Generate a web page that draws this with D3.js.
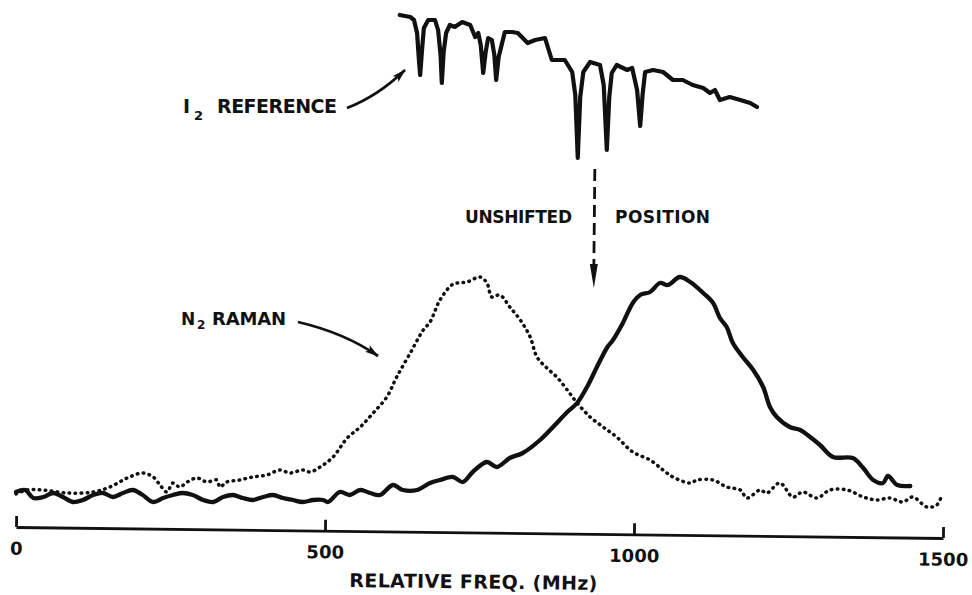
<!DOCTYPE html>
<html>
<head>
<meta charset="utf-8">
<script src="https://cdn.jsdelivr.net/npm/d3@7"></script>
<style>
  body { margin: 0; background: #fff; }
  text { font-family: "DejaVu Sans", sans-serif; font-weight: bold; fill: #111; }
</style>
</head>
<body>
<script>
// frequency in MHz, signal in arbitrary units
var ramanFreq = [0, 15, 28, 44, 60, 76, 92, 108, 125, 141, 157, 173, 189, 205, 222, 238, 254, 270, 286, 303,
  319, 335, 351, 367, 383, 400, 416, 432, 448, 464, 481, 497, 505, 524, 540, 557, 573, 589, 610, 626,
  649, 670, 686, 707, 723, 739, 762, 778, 799, 820, 848, 869, 892, 908, 924, 940, 957, 966, 982, 998,
  1010, 1026, 1042, 1055, 1074, 1091, 1112, 1128, 1139, 1150, 1160, 1176, 1193, 1209, 1220, 1231, 1252,
  1269, 1285, 1301, 1322, 1354, 1371, 1387, 1403, 1411, 1426, 1447];
var ramanSignal = [7.0, 7.4, 5.8, 6.0, 6.8, 6.0, 5.0, 5.4, 6.4, 6.8, 6.0, 6.8, 7.4, 6.4, 5.0, 5.8, 6.4, 6.8, 6.4, 5.4,
  5.0, 6.0, 6.4, 5.8, 5.4, 6.0, 6.4, 5.8, 5.4, 5.0, 5.4, 5.4, 5.0, 7.0, 6.4, 7.4, 6.8, 6.4, 8.4, 7.4,
  7.4, 8.8, 9.4, 10.0, 9.0, 11.0, 13.0, 12.0, 13.8, 14.8, 17.4, 20.0, 23.0, 24.8, 28.0, 32.0, 36.0, 37.4, 40.8, 44.8,
  46.4, 47.0, 48.8, 48.4, 50.0, 49.0, 46.8, 44.8, 41.8, 40.0, 36.8, 34.0, 31.4, 28.0, 24.0, 22.0, 20.0,
  19.4, 18.0, 16.4, 14.0, 13.8, 11.8, 9.4, 8.8, 10.2, 8.4, 8.2];

var shiftedFreq = [0, 18, 44, 83, 125, 152, 180, 205, 222, 233, 244, 254, 265, 277, 293, 309, 325, 330, 341, 362, 383,
  406, 427, 443, 464, 476, 492, 513, 536, 557, 578, 600, 616, 638, 659, 670, 686, 705, 714, 730, 751,
  762, 770, 783, 799, 816, 832, 843, 859, 875, 892, 908, 929, 950, 972, 998, 1026, 1047, 1063, 1091, 1102,
  1128, 1150, 1172, 1183, 1204, 1215, 1236, 1257, 1273, 1296, 1317, 1345, 1371, 1393, 1414, 1435, 1451, 1474, 1490, 1498];
var shiftedSignal = [6.6, 7.4, 7.4, 6.8, 7.0, 8.0, 9.8, 10.8, 10.0, 8.4, 7.0, 8.8, 8.0, 9.0, 9.8, 9.0, 9.4, 8.0, 9.0, 9.4, 10.0,
  10.4, 11.4, 10.8, 11.4, 11.0, 12.0, 14.0, 17.8, 20.0, 22.8, 26.0, 30.0, 34.8, 39.4, 41.0, 45.4, 48.4, 48.8, 49.0, 50.0,
  48.8, 46.0, 46.4, 44.0, 41.4, 38.0, 34.0, 31.8, 30.0, 27.4, 24.8, 22.0, 20.0, 18.0, 15.0, 13.4, 11.4, 10.0, 8.8, 9.4,
  9.4, 8.0, 7.4, 5.8, 7.4, 6.8, 8.8, 6.0, 7.0, 5.8, 7.4, 7.4, 6.0, 5.4, 5.8, 5.0, 6.0, 4.0, 4.4, 6.4];

var iodineFreq = [621, 638, 644, 649, 652, 654, 657, 660, 667, 678, 683, 687, 689, 692, 696, 702, 710, 722, 735, 743,
  748, 752, 756, 760, 764, 770, 774, 777, 781, 791, 803, 812, 828, 840, 856, 867, 888, 900, 905, 909,
  913, 918, 929, 945, 951, 956, 960, 964, 972, 989, 997, 1005, 1010, 1014, 1018, 1031, 1047, 1063, 1079, 1095,
  1112, 1123, 1131, 1139, 1155, 1172, 1188, 1199];
var iodineSignal = [102.4, 102.0, 101.4, 98.8, 93.4, 90.4, 95.4, 99.8, 101.4, 101.4, 99.4, 94.4, 88.8, 95.0, 98.8, 100.4, 100.0, 101.0, 100.4, 98.0,
  98.8, 96.4, 90.8, 95.0, 97.8, 97.4, 94.4, 89.4, 94.0, 99.0, 99.0, 98.8, 96.8, 97.4, 97.8, 93.4, 93.4, 91.0, 86.4, 73.8,
  86.0, 91.0, 93.0, 92.4, 88.4, 75.4, 86.0, 90.8, 92.4, 91.4, 91.8, 87.4, 80.2, 86.6, 91.0, 91.4, 91.0, 89.4, 89.4, 88.4,
  87.8, 86.8, 87.4, 85.4, 86.0, 85.4, 84.8, 84.0];

var tickValues = [0, 500, 1000, 1500];
var unshiftedPos = 935;

var width = 972;
var height = 595;

var svg = d3.select("body").append("svg")
    .attr("width", width)
    .attr("height", height);

var x = d3.scaleLinear()
    .domain([0, 1500])
    .range([16, 943]);

var y = d3.scaleLinear()
    .domain([0, 100])
    .range([527, 27]);

var line = d3.line()
    .x(function(d) { return x(d[0]); })
    .y(function(d) { return y(d[1]); });

// arrow head for the label pointers
svg.append("defs").append("marker")
    .attr("id", "head")
    .attr("viewBox", "0 0 14 8")
    .attr("refX", 13)
    .attr("refY", 4)
    .attr("markerWidth", 14)
    .attr("markerHeight", 8)
    .attr("markerUnits", "userSpaceOnUse")
    .attr("orient", "auto")
  .append("path")
    .attr("d", "M0,0 L14,4 L0,8 L3,4 Z")
    .attr("fill", "#111");

// axis, the scan is tilted a little
var xAxis = d3.axisBottom(x)
    .tickValues(tickValues)
    .tickSizeInner(-11)
    .tickSizeOuter(0)
    .tickPadding(15)
    .tickFormat(d3.format("d"));

var axisG = svg.append("g")
    .attr("transform", "translate(0,527) rotate(0.68,16,0)")
    .call(xAxis);

axisG.select(".domain").attr("stroke", "#111").attr("stroke-width", 2.8);
axisG.selectAll(".tick line").attr("stroke", "#111").attr("stroke-width", 2.8);
axisG.selectAll(".tick text")
    .attr("font-family", "DejaVu Sans, sans-serif")
    .attr("font-weight", "bold")
    .attr("font-size", 18)
    .attr("fill", "#111");

axisG.append("text")
    .attr("x", 474)
    .attr("y", 56)
    .attr("text-anchor", "middle")
    .attr("font-size", 19)
    .attr("textLength", 248)
    .attr("lengthAdjust", "spacing")
    .text("RELATIVE FREQ. (MHz)");

// I2 absorption reference
svg.append("path")
    .datum(d3.zip(iodineFreq, iodineSignal))
    .attr("fill", "none")
    .attr("stroke", "#111")
    .attr("stroke-width", 4.2)
    .attr("stroke-linejoin", "round")
    .attr("stroke-linecap", "round")
    .attr("d", line);

// shifted N2 Raman (dotted)
svg.append("path")
    .datum(d3.zip(shiftedFreq, shiftedSignal))
    .attr("fill", "none")
    .attr("stroke", "#111")
    .attr("stroke-width", 3.5)
    .attr("stroke-linecap", "round")
    .attr("stroke-dasharray", "0.6 5.4")
    .attr("d", line.curve(d3.curveCatmullRom.alpha(0.5)));

// N2 Raman (solid)
svg.append("path")
    .datum(d3.zip(ramanFreq, ramanSignal))
    .attr("fill", "none")
    .attr("stroke", "#111")
    .attr("stroke-width", 4.3)
    .attr("stroke-linejoin", "round")
    .attr("stroke-linecap", "round")
    .attr("d", line.curve(d3.curveCatmullRom.alpha(0.5)));

// unshifted position marker
var ux = x(unshiftedPos);
svg.append("line")
    .attr("x1", ux + 1).attr("y1", 169)
    .attr("x2", ux).attr("y2", 268)
    .attr("stroke", "#111")
    .attr("stroke-width", 2.8)
    .attr("stroke-dasharray", "12 6");
svg.append("path")
    .attr("d", "M" + (ux - 4) + ",264 L" + (ux + 4) + ",264 L" + ux + ",288 Z")
    .attr("fill", "#111");

svg.append("text")
    .attr("x", 465).attr("y", 223)
    .attr("font-size", 17)
    .attr("textLength", 107)
    .attr("lengthAdjust", "spacing")
    .text("UNSHIFTED");
svg.append("text")
    .attr("x", 615).attr("y", 223)
    .attr("font-size", 17)
    .attr("textLength", 95)
    .attr("lengthAdjust", "spacing")
    .text("POSITION");

// labels with pointers
var i2 = svg.append("text").attr("x", 183).attr("y", 113).attr("font-size", 19);
i2.append("tspan").text("I");
i2.append("tspan").attr("x", 194).attr("y", 120).attr("font-size", 13).text("2");
i2.append("tspan").attr("x", 217).attr("y", 113)
    .attr("textLength", 120).attr("lengthAdjust", "spacing").text("REFERENCE");

svg.append("path")
    .attr("d", "M347,108 Q378,96 405,70")
    .attr("fill", "none")
    .attr("stroke", "#111")
    .attr("stroke-width", 2.8)
    .attr("marker-end", "url(#head)");

var n2 = svg.append("text").attr("x", 181).attr("y", 325).attr("font-size", 17);
n2.append("tspan").text("N");
n2.append("tspan").attr("x", 197).attr("y", 329).attr("font-size", 12).text("2");
n2.append("tspan").attr("x", 212).attr("y", 325).attr("font-size", 18)
    .attr("textLength", 74).attr("lengthAdjust", "spacing").text("RAMAN");

svg.append("path")
    .attr("d", "M298,322 Q345,333 378,356")
    .attr("fill", "none")
    .attr("stroke", "#111")
    .attr("stroke-width", 2.8)
    .attr("marker-end", "url(#head)");
</script>
</body>
</html>
